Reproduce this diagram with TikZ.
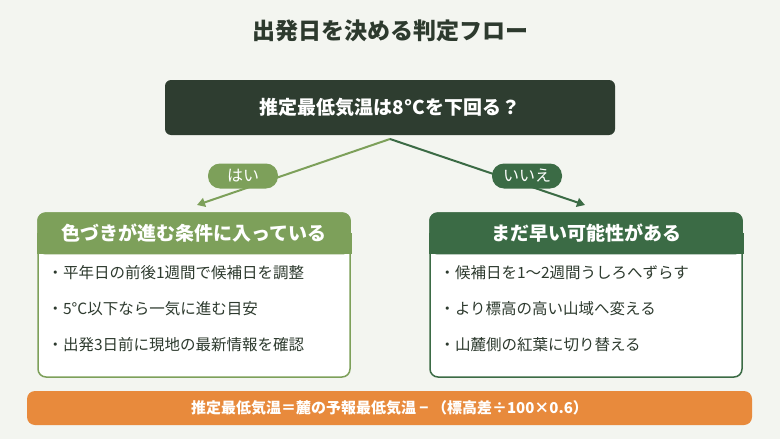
\documentclass[tikz,border=0pt]{standalone}
\usepackage{fontspec}
\setmainfont{Noto Sans CJK JP}
\usetikzlibrary{positioning,arrows.meta}
\definecolor{bg}{HTML}{F3F5F0}
\definecolor{ink}{HTML}{2D3A2E}
\definecolor{darkbox}{HTML}{2E3D30}
\definecolor{leafL}{HTML}{7DA05A}
\definecolor{leafD}{HTML}{3B6B45}
\definecolor{bar}{HTML}{E88A3C}
\tikzset{
	kasten/.style={draw=#1, line width=1.5pt, fill=white, rounded corners=8pt, minimum width=312pt, minimum height=164pt},
	kopf/.style={fill=#1, rounded corners=8pt, minimum width=313.5pt, minimum height=42pt},
	kopftext/.style={text=white, font=\fontsize{19}{21}\selectfont\bfseries},
	punkt/.style={anchor=west, text=ink, font=\fontsize{15.5}{17}\selectfont},
	pille/.style={fill=#1, rounded corners=12pt, minimum width=70pt, minimum height=25pt, text=white, font=\fontsize{16}{18}\selectfont},
	pfeil/.style={draw=#1, line width=2pt, -{Triangle[length=8pt,width=9pt]}},
}
\begin{document}
\begin{tikzpicture}[x=1pt,y=-1pt]
	\fill[bg] (0,0) rectangle (780,439);
	\useasboundingbox (0,0) rectangle (780,439);
	\node[text=ink, font=\fontsize{23}{26}\selectfont\bfseries] (titel) at (390,31) {出発日を決める判定フロー};
	\node[fill=darkbox, rounded corners=6pt, minimum width=450pt, minimum height=55pt, text=white,
		font=\fontsize{19}{22}\selectfont\bfseries] (frage) at (390,107.5) {推定最低気温は8°Cを下回る？};
	\coordinate (spitze) at (390,139);
	% linke Seite
	\node[kasten=leafL] (ja) at (194,295) {};
	\node[kopf=leafL, anchor=north] (jakopf) at (ja.north) {};
	\fill[leafL] ([xshift=-0.75pt,yshift=-21pt]ja.north west) rectangle ([xshift=0.75pt,yshift=-42pt]ja.north east);
	\node[kopftext] at (jakopf) {色づきが進む条件に入っている};
	% rechte Seite
	\node[kasten=leafD] (nein) at (586,295) {};
	\node[kopf=leafD, anchor=north] (neinkopf) at (nein.north) {};
	\fill[leafD] ([xshift=-0.75pt,yshift=-21pt]nein.north west) rectangle ([xshift=0.75pt,yshift=-42pt]nein.north east);
	\node[kopftext] at (neinkopf) {まだ早い可能性がある};
	\coordinate (jaziel) at (197,205);
	\coordinate (neinziel) at (585,205);
	\draw[pfeil=leafL] (spitze) -- (jaziel);
	\draw[pfeil=leafD] (spitze) -- (neinziel);
	\node[pille=leafL] (ja lab) at (243,176) {はい};
	\node[pille=leafD] (nein lab) at (527,176) {いいえ};
	\path
		(44,273) node[punkt] (j1) {・平年日の前後1週間で候補日を調整}
		(44,309) node[punkt] (j2) {・5°C以下なら一気に進む目安}
		(44,345) node[punkt] (j3) {・出発3日前に現地の最新情報を確認}
		(436,273) node[punkt] (n1) {・候補日を1〜2週間うしろへずらす}
		(436,309) node[punkt] (n2) {・より標高の高い山域へ変える}
		(436,345) node[punkt] (n3) {・山麓側の紅葉に切り替える}
	;
	\node[fill=bar, rounded corners=8pt, minimum width=725pt, minimum height=34pt, text=white,
		font=\fontsize{15}{17}\selectfont\bfseries] (formel) at (389.5,408) {推定最低気温＝麓の予報最低気温 − （標高差÷100×0.6）};
\end{tikzpicture}
\end{document}
